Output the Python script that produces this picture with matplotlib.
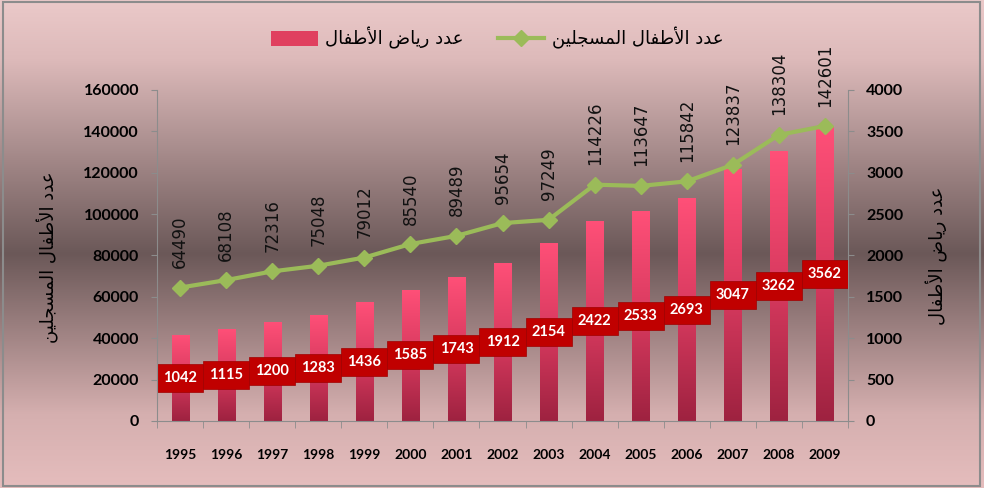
import numpy as np
import matplotlib.pyplot as plt
from matplotlib.colors import LinearSegmentedColormap
from matplotlib.patches import Rectangle
from matplotlib.lines import Line2D
from matplotlib.patches import Patch

years = [1995, 1996, 1997, 1998, 1999, 2000, 2001, 2002, 2003, 2004, 2005, 2006, 2007, 2008, 2009]
children = [64490, 68108, 72316, 75048, 79012, 85540, 89489, 95654, 97249,
            114226, 113647, 115842, 123837, 138304, 142601]
kindergartens = [1042, 1115, 1200, 1283, 1436, 1585, 1743, 1912, 2154,
                 2422, 2533, 2693, 3047, 3262, 3562]

label_children = "عدد الأطفال المسجلين"
label_kg = "عدد رياض الأطفال"

# minimal arabic shaping (matplotlib has no RTL / joining support)
FORMS = {
    'ا': ('\uFE8D', '\uFE8E', None, None),
    'أ': ('\uFE83', '\uFE84', None, None),
    'د': ('\uFEA9', '\uFEAA', None, None),
    'ر': ('\uFEAD', '\uFEAE', None, None),
    'ع': ('\uFEC9', '\uFECA', '\uFECB', '\uFECC'),
    'ط': ('\uFEC1', '\uFEC2', '\uFEC3', '\uFEC4'),
    'ف': ('\uFED1', '\uFED2', '\uFED3', '\uFED4'),
    'ل': ('\uFEDD', '\uFEDE', '\uFEDF', '\uFEE0'),
    'م': ('\uFEE1', '\uFEE2', '\uFEE3', '\uFEE4'),
    'س': ('\uFEB1', '\uFEB2', '\uFEB3', '\uFEB4'),
    'ج': ('\uFE9D', '\uFE9E', '\uFE9F', '\uFEA0'),
    'ي': ('\uFEF1', '\uFEF2', '\uFEF3', '\uFEF4'),
    'ن': ('\uFEE5', '\uFEE6', '\uFEE7', '\uFEE8'),
    'ض': ('\uFEBD', '\uFEBE', '\uFEBF', '\uFEC0'),
    'لا': ('\uFEFB', '\uFEFC', None, None),
    'لأ': ('\uFEF7', '\uFEF8', None, None),
}


def shape(text):
    toks = []
    i = 0
    while i < len(text):
        if text[i:i + 2] in FORMS:
            toks.append(text[i:i + 2]); i += 2
        else:
            toks.append(text[i]); i += 1
    out = []
    for j, t in enumerate(toks):
        if t not in FORMS:
            out.append(t); continue
        prev = toks[j - 1] if j > 0 else None
        nxt = toks[j + 1] if j + 1 < len(toks) else None
        jp = prev in FORMS and FORMS[prev][2] is not None
        jn = nxt in FORMS and FORMS[t][2] is not None
        f = FORMS[t]
        if jp and jn:
            out.append(f[3])
        elif jp:
            out.append(f[1])
        elif jn:
            out.append(f[2])
        else:
            out.append(f[0])
    return ''.join(reversed(out))


fig = plt.figure(figsize=(9.84, 4.88), dpi=100)

# background gradient
bg = fig.add_axes([0, 0, 1, 1], zorder=-10)
bg_cmap = LinearSegmentedColormap.from_list(
    'bg', [(0, '#EBC9C9'), (0.12, '#DDBABA'), (0.52, '#6B5858'), (0.85, '#D5AFAF'), (1, '#E5BDBD')])
bg.imshow(np.linspace(0, 1, 256).reshape(-1, 1), cmap=bg_cmap, aspect='auto', extent=[0, 1, 0, 1])
bg.set_axis_off()
fig.patches.append(Rectangle((0.003, 0.005), 0.993, 0.99, transform=fig.transFigure,
                             fill=False, edgecolor='#8C8C8C', linewidth=1.5))

ax = fig.add_axes([0.1596, 0.1373, 0.7022, 0.6783])
ax2 = ax.twinx()
ax.set_zorder(ax2.get_zorder() + 1)
ax.patch.set_visible(False)
ax2.patch.set_visible(False)

x = np.arange(len(years))

# bars with vertical gradient
bar_cmap = LinearSegmentedColormap.from_list('bar', ['#9E2240', '#D83A5F', '#FF5078'])
bars = ax2.bar(x, kindergartens, width=0.37, color='#E8456C', zorder=2)
grad = np.linspace(0, 1, 256).reshape(-1, 1)
for b in bars:
    x0, w, h = b.get_x(), b.get_width(), b.get_height()
    im = ax2.imshow(grad, cmap=bar_cmap, origin='lower', aspect='auto',
                    extent=[x0, x0 + w, 0, h], zorder=2)
    im.set_clip_path(b)
    b.set_alpha(0)

# red value boxes at mid bar height
box_h = 338
for i, v in enumerate(kindergartens):
    ax2.add_patch(Rectangle((i - 0.5, v / 2 - box_h / 2), 1.0, box_h,
                            facecolor='#C00000', edgecolor='#A00000', lw=0.5, zorder=5))
    ax2.text(i, v / 2, str(v), color='white', fontsize=10.5, fontweight='bold',
             family='Lato', ha='center', va='center', zorder=6)

ax2.set_ylim(0, 4000)
ax2.set_yticks(range(0, 4001, 500))

# line
ax.plot(x, children, color='#9BBB59', linewidth=3, marker='D', markersize=8, zorder=4)
for i, v in enumerate(children):
    ax.annotate(str(v), (i, v), xytext=(0, 14), textcoords='offset points',
                rotation=90, ha='center', va='bottom', fontsize=12, color='#111111')

ax.set_ylim(0, 160000)
ax.set_yticks(range(0, 160001, 20000))
ax.set_xlim(-0.5, len(years) - 0.5)
ax.set_xticks(x)
ax.set_xticklabels(years)
ax.set_xticks(np.arange(-0.5, len(years), 1), minor=True)
ax.tick_params(axis='x', which='major', length=0, pad=20)
ax.tick_params(axis='x', which='minor', length=5, color='#8C8C8C')
ax.tick_params(axis='y', length=4, color='#8C8C8C', pad=9)
ax2.tick_params(axis='y', length=4, color='#8C8C8C', pad=9)

for lbl in ax.get_xticklabels():
    lbl.set_fontfamily('Lato'); lbl.set_fontweight('bold'); lbl.set_fontsize(10)
for lbl in ax.get_yticklabels() + ax2.get_yticklabels():
    lbl.set_fontfamily('Lato'); lbl.set_fontweight('bold'); lbl.set_fontsize(11.5)

for a in (ax, ax2):
    for s in a.spines.values():
        s.set_color('#8C8C8C')
    a.spines['top'].set_visible(False)
ax.spines['right'].set_visible(False)
ax2.spines['left'].set_visible(False)
ax2.spines['bottom'].set_visible(False)

fig.text(0.049, 0.472, shape(label_children), rotation=90, ha='center', va='center',
         fontsize=13, family='DejaVu Sans')
fig.text(0.952, 0.475, shape(label_kg), rotation=90, ha='center', va='center',
         fontsize=13, family='DejaVu Sans')

handles = [Patch(facecolor='#E0405F'),
           Line2D([], [], color='#9BBB59', linewidth=3, marker='D', markersize=8)]
fig.legend(handles, [shape(label_kg), shape(label_children)], loc='center',
           bbox_to_anchor=(0.505, 0.922), ncol=2, frameon=False,
           handlelength=2.6, columnspacing=1.9, handletextpad=0.4, handleheight=0.9,
           prop={'family': 'DejaVu Sans', 'size': 13})

plt.savefig('out.png', dpi=100)
